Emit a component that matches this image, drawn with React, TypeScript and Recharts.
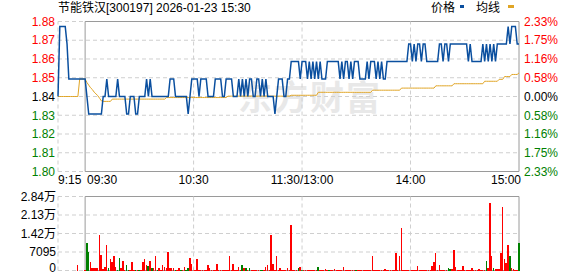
import {
  ComposedChart,
  Line,
  Bar,
  XAxis,
  YAxis,
  CartesianGrid,
  ReferenceLine,
  ReferenceArea,
} from "recharts";

const FONT = "'Liberation Sans', 'Noto Sans CJK SC', sans-serif";
const RED = "#ff0000";
const GREEN = "#008000";
const PRICE_COLOR = "#0a4f9f";
const AVG_COLOR = "#e0a526";
const GRID = "#cfcfcf";
const FRAME = "#9a9a9a";

const title = "节能铁汉[300197] 2026-01-23 15:30";
const prevClose = 1.84;
const firstMinute = -15;
const lastMinute = 240;

// price axis: prev close ± 2.33%
const priceTicks = [1.79713, 1.80784, 1.81856, 1.82928, 1.84, 1.85072, 1.86144, 1.87216, 1.88287];
const priceTickLabels = ["1.80", "1.81", "1.82", "1.83", "1.84", "1.85", "1.86", "1.87", "1.88"];
const pctTickLabels = ["2.33%", "1.75%", "1.16%", "0.58%", "0.00%", "0.58%", "1.16%", "1.75%", "2.33%"];

const timeTicks = [-15, 0, 60, 120, 180, 240];
const timeTickLabels = ["9:15", "09:30", "10:30", "11:30/13:00", "14:00", "15:00"];
const dashedMinutes = [-15, 60, 120, 180];

const volTicks = [0, 7095, 14190, 21285, 28380];
const volTickLabels = ["0", "7095", "1.42万", "2.13万", "2.84万"];

// one value per minute, 9:15 (-15) .. 15:00 (240)
const prices = [
  1.84, 1.88, 1.88, 1.88, 1.88, 1.87, 1.85, 1.85, 1.85, 1.85,
  1.85, 1.85, 1.85, 1.85, 1.85, 1.85, 1.84, 1.83, 1.83, 1.83,
  1.83, 1.83, 1.83, 1.83, 1.83, 1.84, 1.84, 1.85, 1.84, 1.84,
  1.84, 1.84, 1.84, 1.85, 1.84, 1.84, 1.84, 1.84, 1.83, 1.83,
  1.84, 1.84, 1.84, 1.83, 1.83, 1.84, 1.84, 1.84, 1.84, 1.85,
  1.84, 1.85, 1.84, 1.84, 1.84, 1.84, 1.84, 1.84, 1.84, 1.84,
  1.84, 1.84, 1.85, 1.85, 1.85, 1.84, 1.84, 1.84, 1.84, 1.84,
  1.84, 1.84, 1.83, 1.84, 1.85, 1.85, 1.85, 1.85, 1.84, 1.85,
  1.85, 1.85, 1.85, 1.84, 1.84, 1.84, 1.84, 1.85, 1.85, 1.85,
  1.85, 1.84, 1.84, 1.85, 1.85, 1.85, 1.85, 1.84, 1.84, 1.84,
  1.85, 1.84, 1.85, 1.84, 1.85, 1.84, 1.85, 1.85, 1.84, 1.84,
  1.85, 1.85, 1.84, 1.85, 1.84, 1.85, 1.84, 1.84, 1.84, 1.84,
  1.83, 1.84, 1.85, 1.85, 1.85, 1.84, 1.84, 1.85, 1.85, 1.86,
  1.86, 1.86, 1.86, 1.86, 1.85, 1.86, 1.86, 1.86, 1.85, 1.86,
  1.85, 1.86, 1.85, 1.86, 1.85, 1.86, 1.85, 1.85, 1.85, 1.86,
  1.86, 1.86, 1.86, 1.86, 1.86, 1.86, 1.85, 1.86, 1.85, 1.86,
  1.86, 1.85, 1.86, 1.85, 1.86, 1.86, 1.86, 1.85, 1.85, 1.85,
  1.85, 1.86, 1.85, 1.86, 1.86, 1.86, 1.85, 1.86, 1.85, 1.86,
  1.85, 1.85, 1.86, 1.86, 1.86, 1.86, 1.86, 1.86, 1.86, 1.86,
  1.86, 1.86, 1.86, 1.86, 1.87, 1.87, 1.86, 1.87, 1.86, 1.87,
  1.87, 1.86, 1.87, 1.87, 1.86, 1.86, 1.86, 1.86, 1.86, 1.86,
  1.86, 1.87, 1.87, 1.86, 1.87, 1.87, 1.86, 1.87, 1.87, 1.87,
  1.87, 1.87, 1.87, 1.87, 1.87, 1.87, 1.87, 1.86, 1.87, 1.86,
  1.86, 1.86, 1.86, 1.86, 1.86, 1.87, 1.86, 1.87, 1.86, 1.87,
  1.86, 1.87, 1.86, 1.87, 1.87, 1.87, 1.87, 1.87, 1.87, 1.88,
  1.87, 1.88, 1.88, 1.88, 1.87, 1.87,
];

const avgPrices = [
  1.84, 1.84, 1.84, 1.84, 1.84, 1.84, 1.84, 1.84, 1.84, 1.84,
  1.84, 1.84, 1.85, 1.85, 1.85, 1.85, 1.848, 1.8465, 1.845, 1.844,
  1.8425, 1.8415, 1.8405, 1.839, 1.8375, 1.8372, 1.8372, 1.8372, 1.8372, 1.8372,
  1.8385, 1.8385, 1.8385, 1.8385, 1.8385, 1.8385, 1.8385, 1.8385, 1.8385, 1.8385,
  1.8385, 1.8385, 1.8385, 1.8385, 1.8385, 1.8385, 1.8385, 1.8385, 1.8385, 1.8385,
  1.8385, 1.8385, 1.8385, 1.8385, 1.8385, 1.8385, 1.8385, 1.8385, 1.8385, 1.8385,
  1.8394, 1.8394, 1.8394, 1.8394, 1.8394, 1.8394, 1.8394, 1.8394, 1.8394, 1.8394,
  1.8394, 1.8394, 1.8394, 1.8394, 1.8394, 1.8394, 1.8394, 1.8394, 1.8394, 1.8394,
  1.8394, 1.8394, 1.8394, 1.8394, 1.8394, 1.8394, 1.8394, 1.8394, 1.8394, 1.8394,
  1.8394, 1.8394, 1.8394, 1.8394, 1.8402, 1.8402, 1.8402, 1.8402, 1.8402, 1.8402,
  1.8402, 1.8402, 1.8402, 1.8402, 1.8402, 1.8402, 1.8402, 1.8402, 1.8402, 1.8402,
  1.8402, 1.8402, 1.8402, 1.8402, 1.8402, 1.8402, 1.8402, 1.8402, 1.8402, 1.8402,
  1.8402, 1.8402, 1.8402, 1.8402, 1.8402, 1.8402, 1.8402, 1.8402, 1.8402, 1.8407,
  1.8407, 1.8407, 1.8407, 1.8407, 1.8407, 1.8407, 1.8407, 1.8407, 1.8407, 1.8407,
  1.8407, 1.8407, 1.8407, 1.8407, 1.8424, 1.8424, 1.8424, 1.8424, 1.8424, 1.8424,
  1.8424, 1.8424, 1.8424, 1.8424, 1.8424, 1.8424, 1.8424, 1.8424, 1.8424, 1.8424,
  1.8424, 1.8424, 1.8424, 1.8424, 1.8424, 1.8424, 1.8424, 1.8424, 1.8424, 1.8424,
  1.8424, 1.8424, 1.8424, 1.8424, 1.8436, 1.8436, 1.8436, 1.8436, 1.8436, 1.8436,
  1.8436, 1.8436, 1.8436, 1.8436, 1.8436, 1.8436, 1.8436, 1.8436, 1.8436, 1.8436,
  1.8448, 1.8448, 1.8448, 1.8448, 1.8448, 1.8448, 1.8448, 1.8448, 1.8448, 1.8448,
  1.8448, 1.8448, 1.8448, 1.8448, 1.8448, 1.8448, 1.8448, 1.8448, 1.8448, 1.8461,
  1.8461, 1.8461, 1.8461, 1.8461, 1.8461, 1.8461, 1.8461, 1.8461, 1.8461, 1.8473,
  1.8473, 1.8473, 1.8473, 1.8473, 1.8473, 1.8473, 1.8473, 1.8473, 1.8473, 1.8473,
  1.8473, 1.8473, 1.8473, 1.8473, 1.8473, 1.8473, 1.8487, 1.8487, 1.8487, 1.8487,
  1.8487, 1.8487, 1.8487, 1.8487, 1.8498, 1.8498, 1.8498, 1.8514, 1.8514, 1.8514,
  1.8514, 1.8526, 1.8526, 1.8526, 1.8526, 1.8535,
];

const volumes = [
  0, 0, 0, 0, 0, 0, 0, 0, 0, 0,
  0, 2300, 0, 0, 0, 300, 10480, 7285, 3070, 1000,
  770, 1150, 1150, 13800, 6130, 640, 1530, 9970, 770, 4600,
  3450, 5750, 1530, 300, 4980, 770, 3830, 300, 2300, 300,
  300, 3450, 300, 300, 300, 300, 300, 3450, 4600, 2300,
  1900, 3830, 770, 770, 5370, 300, 770, 300, 2300, 1280,
  1150, 7285, 1150, 770, 1150, 300, 300, 1000, 300, 300,
  1530, 300, 770, 4980, 2680, 1150, 300, 4600, 300, 300,
  300, 300, 300, 2300, 770, 300, 300, 300, 2680, 300,
  300, 300, 300, 300, 300, 5750, 300, 2680, 300, 300,
  1530, 300, 2300, 770, 770, 300, 1150, 300, 300, 300,
  300, 300, 300, 300, 300, 1530, 2300, 300, 13700, 2570,
  300, 5750, 300, 1000, 300, 300, 300, 1000, 300, 17640,
  300, 300, 300, 770, 1530, 300, 300, 300, 300, 300,
  300, 300, 300, 300, 1530, 300, 300, 300, 700, 300,
  300, 300, 300, 700, 300, 300, 300, 300, 1530, 300,
  300, 300, 300, 300, 300, 300, 300, 300, 300, 300,
  300, 300, 300, 300, 5370, 300, 300, 300, 300, 300,
  300, 700, 300, 300, 300, 300, 300, 6650, 300, 5370,
  16230, 300, 300, 300, 300, 300, 300, 300, 300, 1900,
  300, 300, 300, 300, 300, 300, 300, 1900, 3450, 6650,
  300, 2300, 300, 300, 300, 300, 1000, 700, 400, 8050,
  1530, 300, 300, 300, 1900, 300, 300, 300, 300, 1000,
  300, 300, 300, 500, 300, 300, 300, 3830, 1000, 26070,
  5370, 1000, 400, 500, 400, 6650, 24540, 4340, 2810, 9590,
  5750, 770, 400, 300, 300, 10480,
];

// minutes whose volume bar is green (price fell)
const downMinutes = [
  1, 2, 13, 18, 19, 23, 24, 28, 30, 35, 37, 40, 50, 53, 56, 57, 87, 89, 91, 97, 98,
  118, 120, 129, 135, 150, 201, 202, 222, 226, 235, 240,
];

const chartData = prices.map((price, i) => ({
  t: firstMinute + i,
  price,
  avg: avgPrices[i],
  vol: volumes[i],
  down: downMinutes.includes(firstMinute + i),
}));

const tickColor = (v: number) =>
  Math.abs(v - prevClose) < 1e-6 ? "#000" : v > prevClose ? RED : GREEN;

const renderPriceTick = (props: any) => {
  const { x, y, payload } = props;
  const i = priceTicks.indexOf(payload.value);
  return (
    <text x={x} y={y} dy="0.355em" textAnchor="end" fontSize={12} fontFamily={FONT} fill={tickColor(payload.value)}>
      {priceTickLabels[i]}
    </text>
  );
};

const renderPctTick = (props: any) => {
  const { x, y, payload } = props;
  const i = priceTicks.indexOf(payload.value);
  return (
    <text x={x} y={y} dy="0.355em" textAnchor="start" fontSize={12} fontFamily={FONT} fill={tickColor(payload.value)}>
      {pctTickLabels[i]}
    </text>
  );
};

const renderTimeTick = (props: any) => {
  const { x, y, payload } = props;
  const i = timeTicks.indexOf(payload.value);
  const last = timeTicks.length - 1;
  const anchor = i <= 1 ? "start" : i === last ? "end" : "middle";
  const dx = i === 1 || i === last ? 2 : 0;
  return (
    <text x={x + dx} y={y} dy="0.71em" textAnchor={anchor} fontSize={12} fontFamily={FONT} fill="#000">
      {timeTickLabels[i]}
    </text>
  );
};

const renderVolTick = (props: any) => {
  const { x, y, payload } = props;
  const i = volTicks.indexOf(payload.value);
  // bottom label sits a little higher so it stays inside the picture
  const dy = i === 0 ? "0.15em" : "0.355em";
  return (
    <text x={x} y={y} dy={dy} textAnchor="end" fontSize={12} fontFamily={FONT} fill="#000">
      {volTickLabels[i]}
    </text>
  );
};

const VolBar = (props: any) => {
  const { x, y, width, height, payload } = props;
  if (!height || height <= 0) return <g />;
  return (
    <rect
      x={x}
      y={y}
      width={width}
      height={height}
      fill={payload.down ? GREEN : RED}
      shapeRendering="crispEdges"
    />
  );
};

export default function App() {
  const lo = priceTicks[0];
  const hi = priceTicks[priceTicks.length - 1];
  return (
    <div
      style={{
        position: "absolute",
        left: 0,
        top: 0,
        width: 578,
        height: 276,
        background: "#fff",
        fontFamily: FONT,
        overflow: "hidden",
      }}
    >
      <div style={{ position: "absolute", left: 58, top: 1, fontSize: 12, lineHeight: "14px", color: "#000", whiteSpace: "nowrap" }}>
        {title}
      </div>
      <div style={{ position: "absolute", left: 431, top: 1, fontSize: 12, lineHeight: "14px", color: "#000" }}>价格</div>
      <div style={{ position: "absolute", left: 460, top: 5, width: 4, height: 3, background: PRICE_COLOR }} />
      <div style={{ position: "absolute", left: 476, top: 1, fontSize: 12, lineHeight: "14px", color: "#000" }}>均线</div>
      <div style={{ position: "absolute", left: 508, top: 5, width: 6, height: 3, background: AVG_COLOR }} />

      {/* faint watermark behind the price plot */}
      <div
        style={{
          position: "absolute",
          left: 238,
          top: 78,
          fontSize: 34,
          lineHeight: "40px",
          letterSpacing: 2,
          fontWeight: 700,
          color: "#e8e8e8",
          whiteSpace: "nowrap",
        }}
      >
        东方财富
      </div>

      <div style={{ position: "absolute", left: 0, top: 0 }}>
        <ComposedChart width={578} height={192} data={chartData} margin={{ top: 21.5, right: 0, bottom: 0.5, left: 0 }}>
          <CartesianGrid yAxisId="p" vertical={false} stroke={GRID} strokeDasharray="4 3" />
          <XAxis
            type="number"
            dataKey="t"
            domain={[firstMinute, lastMinute]}
            ticks={timeTicks}
            interval={0}
            axisLine={false}
            tickLine={false}
            tickSize={0}
            tickMargin={4}
            height={20}
            tick={renderTimeTick}
          />
          <YAxis
            yAxisId="p"
            domain={[lo, hi]}
            ticks={priceTicks}
            interval={0}
            width={58}
            axisLine={false}
            tickLine={false}
            tickSize={0}
            tickMargin={3}
            allowDataOverflow
            tick={renderPriceTick}
          />
          <YAxis
            yAxisId="pct"
            orientation="right"
            domain={[lo, hi]}
            ticks={priceTicks}
            interval={0}
            width={59}
            axisLine={false}
            tickLine={false}
            tickSize={0}
            tickMargin={5}
            allowDataOverflow
            tick={renderPctTick}
          />
          {dashedMinutes.map((m) => (
            <ReferenceLine key={m} yAxisId="p" x={m} stroke={GRID} strokeDasharray="4 3" />
          ))}
          <ReferenceArea yAxisId="p" x1={0} x2={lastMinute} y1={lo} y2={hi} fill="none" stroke={FRAME} strokeWidth={1} ifOverflow="visible" />
          <Line yAxisId="p" type="linear" dataKey="avg" stroke={AVG_COLOR} strokeWidth={1} dot={false} activeDot={false} isAnimationActive={false} />
          <Line yAxisId="p" type="linear" dataKey="price" stroke={PRICE_COLOR} strokeWidth={1.5} dot={false} activeDot={false} isAnimationActive={false} />
        </ComposedChart>
      </div>

      <div style={{ position: "absolute", left: 0, top: 186 }}>
        <ComposedChart width={578} height={90} data={chartData} margin={{ top: 10.5, right: 59, bottom: 5.5, left: 0 }}>
          <CartesianGrid vertical={false} stroke={GRID} strokeDasharray="4 3" />
          <XAxis type="number" dataKey="t" domain={[firstMinute, lastMinute]} hide />
          <YAxis
            domain={[0, volTicks[volTicks.length - 1]]}
            ticks={volTicks}
            interval={0}
            width={58}
            axisLine={false}
            tickLine={false}
            tickSize={0}
            tickMargin={2}
            tick={renderVolTick}
          />
          {dashedMinutes.map((m) => (
            <ReferenceLine key={m} x={m} stroke={GRID} strokeDasharray="4 3" />
          ))}
          <ReferenceArea x1={0} x2={lastMinute} y1={0} y2={volTicks[volTicks.length - 1]} fill="none" stroke={FRAME} strokeWidth={1} ifOverflow="visible" />
          <Bar dataKey="vol" barSize={1.5} shape={VolBar} isAnimationActive={false} />
        </ComposedChart>
      </div>
    </div>
  );
}
